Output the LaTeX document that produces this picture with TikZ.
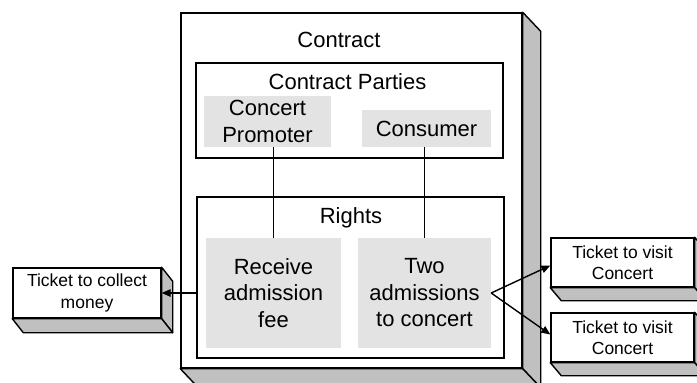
\documentclass[tikz,border=0pt]{standalone}
\usepackage{fontspec}
\setmainfont{Liberation Sans}
\usetikzlibrary{arrows.meta}
\definecolor{facegray}{HTML}{C0C0C0}
\definecolor{cellgray}{HTML}{E3E3E3}
\newcommand{\partyfont}{\fontsize{22}{26.5}\selectfont}
\newcommand{\ticketfont}{\fontsize{17.5}{21.5}\selectfont}

\begin{document}
\begin{tikzpicture}[x=1pt,y=1pt]
		\tikzset{frame/.style = {draw, fill=white, line width=1.4pt, inner sep=0pt},
			face/.style = {draw, fill=facegray, line width=1.4pt, line join=round},
			cell/.style = {fill=cellgray, inner sep=0pt, align=center, font=\partyfont},
			ticket/.style = {frame, align=center, font=\ticketfont, minimum width=143, minimum height=49},
			link/.style = {line width=1.2pt},
			pass/.style = {line width=1.4pt, -{Triangle[length=9pt,width=7.5pt]}}}

		\clip (0,0) rectangle (697,-383);

		% the contract as a block
		\node[frame, minimum width=341, minimum height=355] (contract) at (351.5,-190.5) {};
		\filldraw[face] (contract.north east) -- ++(18,-19) -- ([shift={(18,-19)}]contract.south east) -- (contract.south east) -- cycle;
		\filldraw[face] (contract.south west) -- (contract.south east) -- ++(18,-19) -- ([shift={(18,-19)}]contract.south west) -- cycle;
		\node[font=\partyfont] (title) at (339,-40) {Contract};

		\node[frame, minimum width=307, minimum height=95] (parties) at (349.5,-110.5) {};
		\node[font=\partyfont] (partiestitle) at (347.5,-82) {Contract Parties};
		\node[cell, minimum width=127, minimum height=51] (promoter) at (267.5,-121.5) {Concert\\Promoter};
		\node[cell, minimum width=129, minimum height=37] (consumer) at (426.5,-128.5) {Consumer};

		\node[frame, minimum width=307, minimum height=161] (rights) at (350.5,-277.5) {};
		\node[font=\partyfont] (rightstitle) at (351,-218) {Rights};
		\node[cell, minimum width=135, minimum height=110] (receive) at (273.5,-293) {Receive\\admission\\fee};
		\node[cell, minimum width=133, minimum height=110] (two) at (424.5,-293) {Two\\admissions\\to concert};

		\draw[link] (receive.north) -- (receive.north |- promoter.south);
		\draw[link] (two.north) -- (two.north |- consumer.south);

		% tickets
		\node[ticket, minimum width=148, minimum height=50] (money) at (87,-293) {Ticket to collect\\money};
		\filldraw[face] (money.north east) -- ++(11,-14) -- ([shift={(11,-14)}]money.south east) -- (money.south east) -- cycle;
		\filldraw[face] (money.south west) -- (money.south east) -- ++(11,-14) -- ([shift={(11,-14)}]money.south west) -- cycle;

		\node[ticket] (visit1) at (622.5,-262.5) {Ticket to visit\\Concert};
		\filldraw[face] (visit1.north east) -- ++(11,-13) -- ([shift={(11,-13)}]visit1.south east) -- (visit1.south east) -- cycle;
		\filldraw[face] (visit1.south west) -- (visit1.south east) -- ++(11,-13) -- ([shift={(11,-13)}]visit1.south west) -- cycle;

		\node[ticket] (visit2) at (622.5,-337.5) {Ticket to visit\\Concert};
		\filldraw[face] (visit2.north east) -- ++(11,-13) -- ([shift={(11,-13)}]visit2.south east) -- (visit2.south east) -- cycle;
		\filldraw[face] (visit2.south west) -- (visit2.south east) -- ++(11,-13) -- ([shift={(11,-13)}]visit2.south west) -- cycle;

		\draw[pass] (rights.west |- money.east) -- (money.east);
		\draw[pass] (two.east) -- ([yshift=-3]visit1.west);
		\draw[pass] (two.east) -- ([yshift=3]visit2.west);

	\end{tikzpicture}
\end{document}
